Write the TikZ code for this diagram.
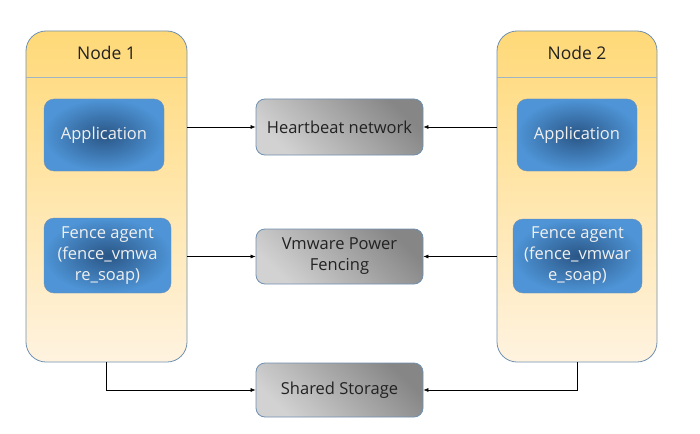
\documentclass[tikz,border=0pt]{standalone}
\usepackage{fontspec}
\setmainfont{Open Sans}
\usetikzlibrary{arrows.meta, positioning}
\definecolor{edgeblue}{HTML}{7090B0}
\definecolor{headline}{HTML}{A0B4C4}
\definecolor{nodetop}{HTML}{FFD978}
\definecolor{nodebot}{HTML}{FFF3E0}
\definecolor{appin}{HTML}{2A5686}
\definecolor{appout}{HTML}{4E94D6}
\definecolor{txt}{HTML}{222222}
\tikzstyle{container} = [rectangle, rounded corners=20pt, draw=edgeblue, line width=0.8pt, top color=nodetop, bottom color=nodebot, minimum height=331pt]
\tikzstyle{app} = [rectangle, rounded corners=10pt, draw=edgeblue, inner color=appin, outer color=appout, text=white!94!black, align=center, inner sep=1pt, font=\fontsize{16.5}{21}\selectfont]
\tikzstyle{service} = [rectangle, rounded corners=9pt, draw=edgeblue, line width=0.8pt, top color=gray!95, bottom color=gray!35, shading angle=-45, text=txt, align=center, minimum width=167pt, inner sep=1pt, font=\fontsize{16.5}{21}\selectfont]
\tikzstyle{title} = [text=txt, font=\fontsize{17.5}{21}\selectfont]
\tikzstyle{arrow} = [line width=0.6pt, -{Latex[length=5pt,width=4pt]}]

\begin{document}
\begin{tikzpicture}[x=1pt, y=-1pt]
\useasboundingbox (0,0) rectangle (700,433);

% Nodes
\node (node1) [container, minimum width=161pt] at (106.5,196.5) {};
\node (node2) [container, minimum width=160pt] at (577,196.5) {};
\draw [headline, line width=0.8pt] (node1.west |- 0,77) -- (node1.east |- 0,77);
\draw [headline, line width=0.8pt] (node2.west |- 0,77) -- (node2.east |- 0,77);
\node (title1) [title] at (106.5,53) {Node 1};
\node (title2) [title] at (577,53) {Node 2};

\node (app1) [app, minimum width=120pt, minimum height=72pt] at (104,135) {Application};
\node (fence1) [app, minimum width=127pt, minimum height=75pt] at (107.5,255.5) {Fence agent\\(fence\_vmwa\\re\_soap)};
\node (app2) [app, minimum width=120pt, minimum height=72pt] at (577,135) {Application};
\node (fence2) [app, minimum width=129pt, minimum height=74pt] at (577.5,256) {Fence agent\\(fence\_vmwar\\e\_soap)};

\node (heartbeat) [service, minimum height=56pt] at (339.5,127) {Heartbeat network};
\node (fencing) [service, minimum height=55pt] at (339.5,256.5) {Vmware Power\\Fencing};
\node (storage) [service, minimum height=54pt] at (339.5,390) {Shared Storage};

% Arrows
\draw [arrow] (node1.east |- heartbeat.west) -- (heartbeat.west);
\draw [arrow] (node2.west |- heartbeat.east) -- (heartbeat.east);
\draw [arrow] (node1.east |- fencing.west) -- (fencing.west);
\draw [arrow] (node2.west |- fencing.east) -- (fencing.east);
\draw [arrow] (node1.south) -- (node1.south |- storage.west) -- (storage.west);
\draw [arrow] (node2.south) -- (node2.south |- storage.east) -- (storage.east);

\end{tikzpicture}
\end{document}
